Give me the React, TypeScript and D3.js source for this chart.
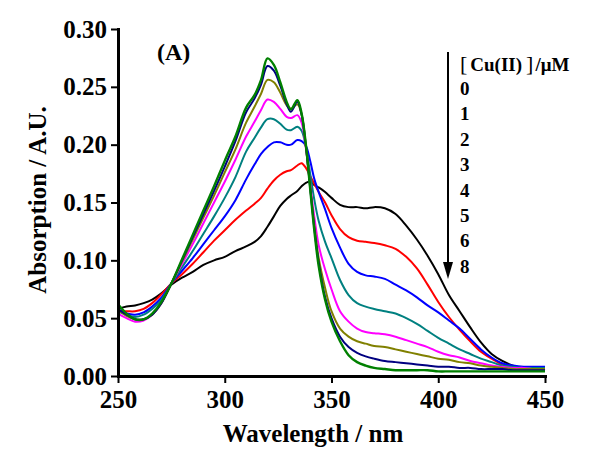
import React, { useEffect, useRef } from "react";
import * as d3 from "d3";

// wavelength grid (nm)
const wavelengths = [
  250, 254, 258, 262, 266, 270, 275, 280, 285, 290, 295, 300, 305, 310, 314, 317, 320, 323, 326, 329,
  331, 334, 336, 338, 340, 342, 344, 347, 350, 354, 358, 362, 366, 370, 375, 380, 385, 390, 395, 400,
  405, 410, 415, 420, 425, 430, 435, 440, 445, 450,
];

// absorbance for each [Cu(II)] in uM
const abs0 = [
  0.058, 0.06, 0.061, 0.063, 0.066, 0.071, 0.079, 0.085, 0.09, 0.096, 0.1, 0.103, 0.108, 0.112, 0.116, 0.121, 0.129, 0.138, 0.147, 0.153,
  0.156, 0.16, 0.164, 0.167, 0.168, 0.165, 0.163, 0.159, 0.154, 0.148, 0.146, 0.146, 0.145, 0.146, 0.145, 0.14, 0.13, 0.118, 0.104, 0.088,
  0.07, 0.056, 0.042, 0.029, 0.019, 0.013, 0.009, 0.007, 0.006, 0.005,
];
const abs1 = [
  0.056, 0.056, 0.056, 0.058, 0.063, 0.07, 0.08, 0.088, 0.097, 0.107, 0.117, 0.126, 0.135, 0.143, 0.149, 0.154, 0.162, 0.169, 0.174, 0.177,
  0.178, 0.182, 0.184, 0.18, 0.173, 0.166, 0.159, 0.15, 0.139, 0.127, 0.12, 0.117, 0.116, 0.115, 0.113, 0.11, 0.103, 0.093, 0.079, 0.064,
  0.051, 0.04, 0.03, 0.021, 0.015, 0.01, 0.008, 0.006, 0.006, 0.006,
];
const abs2 = [
  0.057, 0.054, 0.053, 0.055, 0.06, 0.067, 0.08, 0.091, 0.102, 0.114, 0.126, 0.138, 0.152, 0.17, 0.183, 0.192, 0.198, 0.202, 0.202, 0.2,
  0.2, 0.204, 0.203, 0.199, 0.186, 0.17, 0.159, 0.144, 0.128, 0.111, 0.097, 0.09, 0.087, 0.086, 0.084, 0.079, 0.074, 0.068, 0.061, 0.055,
  0.048, 0.041, 0.032, 0.023, 0.016, 0.011, 0.009, 0.008, 0.008, 0.008,
];
const abs3 = [
  0.056, 0.053, 0.051, 0.053, 0.058, 0.065, 0.08, 0.094, 0.108, 0.123, 0.138, 0.154, 0.172, 0.194, 0.206, 0.215, 0.222, 0.222, 0.218, 0.213,
  0.2125, 0.2155, 0.212, 0.198, 0.175, 0.152, 0.134, 0.116, 0.102, 0.083, 0.07, 0.063, 0.06, 0.058, 0.056, 0.054, 0.05, 0.045, 0.039, 0.033,
  0.028, 0.023, 0.019, 0.015, 0.012, 0.009, 0.008, 0.007, 0.007, 0.007,
];
const abs4 = [
  0.054, 0.05, 0.047, 0.048, 0.053, 0.062, 0.08, 0.097, 0.114, 0.132, 0.15, 0.168, 0.187, 0.207, 0.22, 0.23, 0.239, 0.237, 0.231, 0.224,
  0.223, 0.2255, 0.219, 0.197, 0.166, 0.137, 0.113, 0.092, 0.075, 0.056, 0.047, 0.041, 0.038, 0.037, 0.036, 0.034, 0.031, 0.028, 0.025, 0.021,
  0.018, 0.016, 0.013, 0.011, 0.009, 0.008, 0.007, 0.007, 0.006, 0.006,
];
const abs5 = [
  0.057, 0.052, 0.049, 0.049, 0.053, 0.062, 0.08, 0.099, 0.118, 0.137, 0.156, 0.176, 0.196, 0.219, 0.233, 0.244, 0.256, 0.254, 0.245, 0.234,
  0.231, 0.235, 0.226, 0.198, 0.164, 0.13, 0.102, 0.076, 0.056, 0.041, 0.034, 0.03, 0.028, 0.026, 0.025, 0.023, 0.021, 0.019, 0.017, 0.015,
  0.014, 0.012, 0.011, 0.009, 0.008, 0.007, 0.006, 0.006, 0.006, 0.006,
];
const abs6 = [
  0.058, 0.053, 0.049, 0.049, 0.053, 0.062, 0.08, 0.1, 0.12, 0.14, 0.16, 0.181, 0.203, 0.228, 0.24, 0.252, 0.268, 0.264, 0.251, 0.235,
  0.2285, 0.237, 0.226, 0.199, 0.163, 0.127, 0.098, 0.068, 0.05, 0.034, 0.025, 0.02, 0.017, 0.015, 0.013, 0.012, 0.011, 0.01, 0.009, 0.008,
  0.008, 0.007, 0.007, 0.006, 0.006, 0.006, 0.005, 0.005, 0.005, 0.005,
];
const abs8 = [
  0.062, 0.054, 0.049, 0.049, 0.054, 0.063, 0.08, 0.101, 0.122, 0.143, 0.164, 0.186, 0.207, 0.232, 0.243, 0.256, 0.2746, 0.269, 0.254, 0.237,
  0.2305, 0.2385, 0.227, 0.2, 0.162, 0.125, 0.095, 0.066, 0.047, 0.03, 0.018, 0.012, 0.009, 0.007, 0.006, 0.005, 0.005, 0.005, 0.005, 0.004,
  0.004, 0.004, 0.004, 0.004, 0.004, 0.004, 0.004, 0.004, 0.004, 0.004,
];

const concLabels = ["0", "1", "2", "3", "4", "5", "6", "8"];
const seriesColors = ["#000000", "#ff0000", "#0000ff", "#008080", "#ff00ff", "#808000", "#000080", "#008000"];
const xTicks = [250, 300, 350, 400, 450];
const yTicks = [0, 0.05, 0.1, 0.15, 0.2, 0.25, 0.3];

const FONT = "Liberation Serif, Times New Roman, serif";

const App = () => {
  const svgRef = useRef<SVGSVGElement | null>(null);

  useEffect(() => {
    const W = 600;
    const H = 461;
    const svg = d3.select(svgRef.current);
    svg.selectAll("*").remove();
    svg.attr("width", W).attr("height", H).style("font-family", FONT);

    const x = d3.scaleLinear().domain([250, 450]).range([118, 545]);
    const y = d3.scaleLinear().domain([0, 0.3]).range([376, 29]);

    const allSeries = [abs0, abs1, abs2, abs3, abs4, abs5, abs6, abs8];

    const line = d3
      .line<number>()
      .x((d, i) => x(wavelengths[i]))
      .y((d) => y(d))
      .curve(d3.curveCatmullRom.alpha(0.5));

    const curves = svg.append("g");
    allSeries.forEach((vals, i) => {
      curves
        .append("path")
        .attr("d", line(vals))
        .attr("fill", "none")
        .attr("stroke", seriesColors[i])
        .attr("stroke-width", i === 7 ? 2.4 : 2)
        .attr("stroke-linejoin", "round");
    });

    // minor ticks
    const yMinor = yTicks.slice(0, -1).map((t) => t + 0.025);
    const xMinor = xTicks.slice(0, -1).map((t) => t + 25);

    const gy = svg.append("g").attr("transform", `translate(${x(250)},0)`);
    gy.call(
      d3.axisLeft(y).tickValues(yMinor).tickSizeInner(4).tickSizeOuter(0).tickFormat(() => "")
    );
    gy.call(
      d3
        .axisLeft(y)
        .tickValues(yTicks)
        .tickSizeInner(7)
        .tickSizeOuter(0)
        .tickPadding(4)
        .tickFormat(d3.format(".2f"))
    );

    const gx = svg.append("g").attr("transform", `translate(0,${y(0)})`);
    gx.call(
      d3.axisBottom(x).tickValues(xMinor).tickSizeInner(4).tickSizeOuter(0).tickFormat(() => "")
    );
    gx.call(
      d3.axisBottom(x).tickValues(xTicks).tickSizeInner(7).tickSizeOuter(0).tickPadding(7).tickFormat(d3.format("d"))
    );

    [gx, gy].forEach((g) => {
      g.attr("font-family", FONT);
      g.selectAll(".domain").attr("stroke-width", 3).attr("stroke-linecap", "square");
      g.selectAll(".tick line").attr("stroke-width", 2);
      g.selectAll("text")
        .attr("font-family", FONT)
        .attr("font-weight", "bold")
        .attr("font-size", 25)
        .attr("fill", "#000");
    });

    // axis titles
    svg
      .append("text")
      .attr("x", 313)
      .attr("y", 442)
      .attr("text-anchor", "middle")
      .attr("font-family", FONT)
      .attr("font-weight", "bold")
      .attr("font-size", 25)
      .text("Wavelength / nm");

    svg
      .append("text")
      .attr("transform", "translate(46,200) rotate(-90)")
      .attr("text-anchor", "middle")
      .attr("font-family", FONT)
      .attr("font-weight", "bold")
      .attr("font-size", 25)
      .text("Absorption / A.U.");

    svg
      .append("text")
      .attr("x", 157)
      .attr("y", 60)
      .attr("font-family", FONT)
      .attr("font-weight", "bold")
      .attr("font-size", 24)
      .text("(A)");

    // legend arrow
    const lg = svg.append("g");
    lg.append("line")
      .attr("x1", 448)
      .attr("x2", 448)
      .attr("y1", 52)
      .attr("y2", 264)
      .attr("stroke", "#000")
      .attr("stroke-width", 2);
    lg.append("path").attr("d", "M443,262 L453,262 L448,279 Z").attr("fill", "#000");

    const head = lg
      .append("text")
      .attr("x", 460)
      .attr("y", 71)
      .attr("font-family", FONT)
      .attr("font-size", 19)
      .attr("font-weight", "bold");
    head.append("tspan").attr("font-weight", "normal").attr("font-size", 22).text("[");
    head.append("tspan").attr("dx", 3).text("Cu(II)");
    head.append("tspan").attr("dx", 4).attr("font-weight", "normal").attr("font-size", 22).text("]");
    head.append("tspan").attr("dx", 2).text("/μM");

    lg.selectAll("text.conc")
      .data(concLabels)
      .enter()
      .append("text")
      .attr("class", "conc")
      .attr("x", 460)
      .attr("y", (d, i) => 95 + i * 25.4)
      .attr("font-family", FONT)
      .attr("font-size", 19)
      .attr("font-weight", "bold")
      .text((d) => d);
  }, []);

  return (
    <div style={{ width: 600, height: 461, background: "#fff" }}>
      <style>{`body{margin:0}`}</style>
      <svg ref={svgRef} style={{ display: "block" }} />
    </div>
  );
};

export default App;
